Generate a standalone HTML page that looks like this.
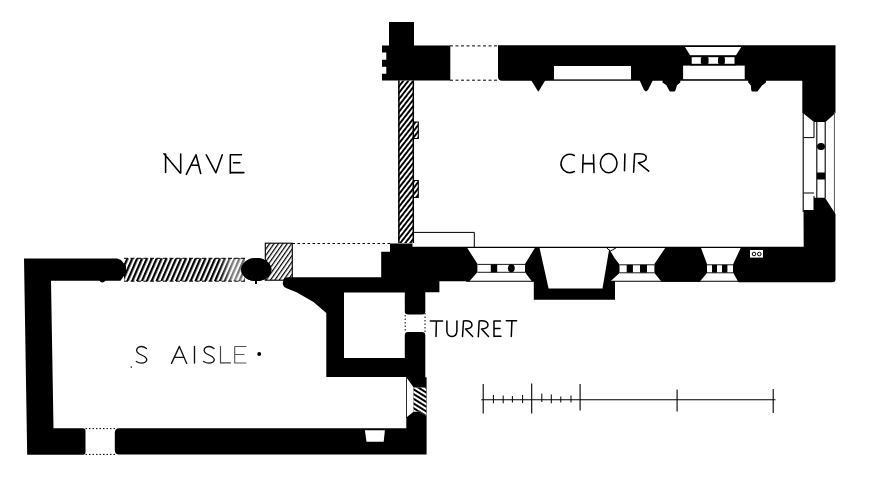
<!DOCTYPE html>
<html>
<head>
<meta charset="utf-8">
<title>Plan</title>
<style>
html,body{margin:0;padding:0;background:#fff;}
body{width:876px;height:478px;overflow:hidden;font-family:"Liberation Sans",sans-serif;}
svg{display:block;}
</style>
</head>
<body>
<svg width="876" height="478" viewBox="0 0 876 478">
<defs>
  <pattern id="hBand" width="4.87" height="10" patternUnits="userSpaceOnUse" patternTransform="skewX(-23.5)">
    <rect x="0" y="0" width="2.45" height="10" fill="#000"/>
  </pattern>
  <pattern id="hWall" width="3.9" height="10" patternUnits="userSpaceOnUse" patternTransform="rotate(38)">
    <rect x="0" y="0" width="1.95" height="10" fill="#000"/>
  </pattern>
  <pattern id="hSq" width="3.6" height="10" patternUnits="userSpaceOnUse" patternTransform="rotate(35)">
    <rect x="0" y="0" width="1.2" height="10" fill="#000"/>
  </pattern>
  <pattern id="hSm" width="4" height="10" patternUnits="userSpaceOnUse" patternTransform="rotate(-58)">
    <rect x="0" y="0" width="2" height="10" fill="#000"/>
  </pattern>
</defs>
<rect x="0" y="0" width="876" height="478" fill="#fff"/>

<!-- ============ CHOIR: north wall ============ -->
<g id="choirN" fill="#000">
  <path d="M389,22 H414 V45.5 H450.3 V80.6 H382 V73.8 H386.3 V66.8 H382 V59.7 H386.3 V52.6 H382 V45.5 H389 Z"/>
  <path d="M498,45.3 H835.5 V113 L825.5,122 H814 L802.3,112.6 V80.7 H502 Q498,80.7 498,76.5 Z"/>
  <!-- pendants -->
  <path d="M531,80 H545.5 L538.3,91.8 Z"/>
  <path d="M639.5,80 H653 L648,90 L646,91.5 L644,90 Z"/>
  <path d="M662.5,80 H680.3 V82.6 L677,85.3 L675.4,90.5 L674.5,91.5 H670 L669.2,90.5 L666.4,85.3 L662.5,82.6 Z"/>
  <path d="M748.2,80 H766 V82.6 L762,85.6 L758.2,90.5 L757.5,91.5 H752 L751.3,90.5 L750.8,85.3 L748.2,82.6 Z"/>
</g>
<g id="choirNwhite" fill="#fff">
  <rect x="554" y="66" width="77" height="13.4"/>
  <path d="M684.9,46.9 H741.3 L735.8,55.5 H690.3 Z"/>
  <rect x="691.7" y="57.2" width="9.2" height="6.8"/>
  <rect x="708.4" y="57.2" width="9.6" height="6.8"/>
  <rect x="724.9" y="57.2" width="9.6" height="6.8"/>
  <rect x="683.1" y="65.6" width="61.6" height="13.6"/>
  <rect x="700.9" y="57.2" width="7.5" height="6.8"/>
  <rect x="718" y="57.2" width="6.9" height="6.8"/>
</g>
<g fill="#000"><rect x="700.9" y="56.5" width="7.5" height="8" rx="2.2"/><rect x="718" y="56.5" width="6.9" height="8" rx="2.2"/><rect x="690" y="55.4" width="46" height="1.3"/><rect x="690" y="63.8" width="46" height="1.6"/></g>
<!-- north doorway dotted -->
<g stroke="#000" stroke-width="1" fill="none">
  <line x1="450" y1="45.9" x2="498" y2="45.9" stroke-dasharray="3 2.5"/>
  <line x1="450" y1="80.2" x2="498" y2="80.2" stroke-dasharray="3 2.5"/>
</g>

<!-- ============ CHOIR: west hatched wall ============ -->
<g id="choirW">
  <rect x="398.2" y="80.6" width="15.7" height="162.4" fill="url(#hWall)"/>
  <line x1="398.9" y1="80.6" x2="398.9" y2="243" stroke="#000" stroke-width="1.5"/>
  <line x1="413.3" y1="80.6" x2="413.3" y2="243" stroke="#000" stroke-width="1.5"/>
  <path d="M414,122 H418.3 V138.5 H414" fill="url(#hWall)" stroke="#000" stroke-width="1.1"/>
  <path d="M414,180.5 H418.3 V197.5 H414" fill="url(#hWall)" stroke="#000" stroke-width="1.1"/>
</g>

<!-- ============ CHOIR: east window ============ -->
<g id="choirE" stroke="#000" fill="none">
  <line x1="803.2" y1="112" x2="803.2" y2="212" stroke-width="1.1"/>
  <line x1="834.4" y1="112" x2="834.4" y2="215" stroke-width="1" stroke="#555"/>
  <line x1="816.8" y1="122" x2="816.8" y2="198" stroke-width="1.1"/>
  <line x1="825.2" y1="122" x2="825.2" y2="198" stroke-width="1.1"/>
  <path d="M814,122 V137.6 H803.5" stroke-width="1"/>
  <path d="M803.5,193 H814 M814,196 V210" stroke-width="1"/>
  <ellipse cx="821" cy="146.5" rx="4" ry="3.6" fill="#000" stroke="none"/>
  <rect x="817" y="172.5" width="8" height="7" fill="#000" stroke="none"/>
</g>

<!-- ============ CHOIR: south wall ============ -->
<g id="choirS" fill="#000">
  <!-- east + SE corner -->
  <path d="M803.5,210 H814 V197.7 H825 L835.5,214 V279 Q835.5,282.3 832.5,282.3 H738.5 L733,272.5 V264.5 L741,247.3 H803.7 Z"/>
  <!-- block between win2 and win3 -->
  <path d="M665.7,247.3 H700.7 L707,264 V273 L699.6,281.8 H661.6 L654.4,273 V264 Z"/>
  <!-- bay -->
  <path d="M535.3,247.3 H539.4 L548.6,288.4 H602.5 L609.2,249 L614.5,258 L619.5,264.5 V273 L610.5,281.3 H615 V299.7 H533.8 V281.5 L532,281.5 L525,272.3 V264 Z"/>
  <!-- west pier / SW corner of choir -->
  <path d="M390,243.5 H412.5 V247.3 H466.8 L477.4,263.8 V272.3 L469.4,281.3 H439.4 V292.3 H425.3 V311.5 Q425.3,314.5 422.3,314.5 H408 Q404.8,314.5 404.8,311.5 V292.5 H344 V357.9 H404.8 V335 Q404.8,332 408,332 H422 Q425.3,332 425.3,335 V377.3 H426.6 V454.6 H119 Q114.8,454.6 114.8,450 V433 Q114.8,428.3 119,428.3 H406.3 V377 H326.3 V313 L313.5,302 L297,292.6 L286,288 Q282,286 283,281.5 Q284.5,277.2 288,277.2 H381.2 V251.8 H390 Z"/>
</g>
<g id="choirSlines" stroke="#000" stroke-width="1.1" fill="none">
  <line x1="412" y1="247.4" x2="804" y2="247.4"/>
  <line x1="466" y1="281.3" x2="534" y2="281.3"/>
  <line x1="610" y1="281.3" x2="740" y2="281.3"/>
  <path d="M606.5,247.6 L610.2,251.2 L616.5,247.6" stroke-width="1"/>
  <!-- mullion rows -->
  <path d="M477.5,264.4 H525 M477.5,272.3 H525" stroke-width="0.9"/>
  <path d="M619.5,264.8 H654.4 M619.5,272.8 H654.4" stroke-width="0.9"/>
  <path d="M707,264.8 H733 M707,272.8 H733" stroke-width="0.9"/>
</g>
<g fill="#000">
  <rect x="490.8" y="264.4" width="6.4" height="7.8"/>
  <ellipse cx="511.3" cy="268.2" rx="3.4" ry="4"/>
  <rect x="626.7" y="264.8" width="6.2" height="7.8"/>
  <rect x="640" y="264.8" width="7" height="7.8"/>
  <rect x="712" y="264.8" width="5" height="7.8"/>
  <rect x="722" y="264.8" width="5.4" height="7.8"/>
</g>
<!-- small rect at SW of choir -->
<path d="M412.5,232.4 H474.3 V247" fill="none" stroke="#000" stroke-width="1"/>
<!-- piscina -->
<rect x="750" y="250" width="13" height="7.6" fill="#fff"/>
<g fill="none" stroke="#000" stroke-width="1">
  <circle cx="754" cy="254" r="1.8"/><circle cx="759.3" cy="254" r="1.8"/>
</g>

<!-- ============ turret doorway dotted ============ -->
<g stroke="#000" stroke-width="1" stroke-dasharray="1.5 2">
  <line x1="405.2" y1="315" x2="405.2" y2="332"/>
  <line x1="425" y1="313" x2="425" y2="334"/>
</g>

<!-- ============ S AISLE ============ -->
<g id="aisle" fill="#000">
  <path d="M24,258.5 H117 L121,260 L126,266 V273 L120.5,280.8 H51 L53.5,428.2 H83 Q85.5,428.2 85.5,431 V452 Q85.5,454.8 83,454.8 H27.2 Z"/>
  <ellipse cx="256.2" cy="269.6" rx="15.2" ry="11.5"/>
  <rect x="255" y="280" width="2" height="4"/>
  <path d="M99,280 Q102,285 106,280 Z"/>
</g>
<!-- hatched band -->
<rect x="124" y="258.3" width="121" height="22.8" fill="url(#hBand)"/>
<g stroke="#000" stroke-width="1" fill="none" stroke-dasharray="4 2.5">
  <line x1="124" y1="258.3" x2="245" y2="258.3"/>
  <line x1="124" y1="281.2" x2="245" y2="281.2"/>
</g>
<linearGradient id="fade" x1="0" x2="1" y1="0" y2="0"><stop offset="0" stop-color="#fff" stop-opacity="0"/><stop offset="0.6" stop-color="#fff" stop-opacity="0.55"/><stop offset="1" stop-color="#fff" stop-opacity="0.35"/></linearGradient>
<rect x="218" y="259" width="27" height="21.6" fill="url(#fade)"/>
<!-- hatched square -->
<rect x="265.3" y="243.2" width="27" height="37" fill="url(#hSq)" stroke="#000" stroke-width="1.1"/>
<ellipse cx="256.2" cy="269.6" rx="15.2" ry="11.5" fill="#000"/>
<!-- dotted from square -->
<g stroke="#000" stroke-width="1" fill="none" stroke-dasharray="2.5 2.5">
  <line x1="292.5" y1="243.5" x2="390" y2="243.5"/>
</g>
<!-- aisle south doorway dotted -->
<g stroke="#000" stroke-width="1" fill="none" stroke-dasharray="1.5 2">
  <line x1="85.5" y1="428.6" x2="115" y2="428.6"/>
  <line x1="85.5" y1="454.4" x2="115" y2="454.4"/>
</g>
<!-- aisle east window -->
<path d="M406.3,377.3 L413.6,387.6 V411.8 L406.3,417.5 Z" fill="#fff"/>
<path d="M413.6,387.6 H426.3 V416 L420,411.8 H413.6 Z" fill="#fff"/>
<path d="M413.6,387.6 H426.3 V416 L420,411.8 H413.6 Z" fill="url(#hSm)"/>
<line x1="406.5" y1="377" x2="406.5" y2="418" stroke="#000" stroke-width="0.8"/>
<!-- aisle south niche -->
<path d="M364.9,430.2 H384.9 L383.7,441.7 H366.5 Z" fill="#fff"/>

<!-- ============ labels (hand lettering) ============ -->
<g id="labels" fill="none" stroke="#000" stroke-width="1.55" stroke-linecap="round" stroke-linejoin="round">
  <!-- NAVE -->
  <path d="M165.6,172.4 V154 M164,153.7 L180.2,173 M180.7,154 V173"/>
  <path d="M186.3,174.4 L196,154.8 L200.7,173.5 M190.8,165.2 H198.3"/>
  <path d="M206.3,154.8 L215.9,172.8 L222.3,154.8"/>
  <path d="M230.3,154.8 V173.2 M230.3,154.8 H241.5 M233.5,162.8 H239.9 M230.3,172.6 H243.9"/>
  <!-- CHOIR -->
  <path d="M574.4,155.5 Q567,152 562.5,158.5 Q559,165 563.5,170 Q568,174.500 574.4,171.5"/>
  <path d="M583.2,154.8 L582.6,172.4 M593.5,154.8 L594,172.4 M583.2,163.6 H593.5"/>
  <ellipse cx="608.7" cy="163.2" rx="8.3" ry="9.6"/>
  <path d="M624.9,154 L624.5,170.8"/>
  <path d="M634.6,154 L633.6,172.2 M634.6,154 Q646,152.500 646.3,157.500 Q646.300,162 638.5,162.800 L648.7,171.200"/>
  <!-- TURRET -->
  <g stroke-width="1.5">
  <path d="M430.3,321 H442.6 M436.4,321 L436,336.500"/>
  <path d="M446.9,321 V331.500 Q447.500,336.500 452,336.500 Q456.500,336.500 456.9,331 V321"/>
  <path d="M463.5,321 L462.500,336.500 M463.5,321 Q472,320 472,325 Q472,328.500 465.500,329 L472.7,336.500"/>
  <path d="M479.2,321 L478.3,336.800 M479.2,321 Q488,320 488,325 Q488,328.500 481.500,329 L488.5,336.500"/>
  <path d="M494,321 V336.500 M494,321 H500.500 M495,328.500 H500 M494,336.300 H501"/>
  <path d="M506.3,320.800 H516.6 M511.9,321 L511.300,336.500"/>
  </g>
  <!-- S AISLE -->
  <g stroke-width="1.35" stroke="#111">
  <path d="M146.5,348.500 Q142,345 138,347.500 Q135,350.500 138.500,353.500 L144.500,356.500 Q148.500,359.500 145.500,362 Q141,364.500 136.300,361.500"/>
  <path d="M171.5,363.4 L179.4,346.4 L186.7,363.4 M175,357.4 H184"/>
  <path d="M194.5,346.500 V363"/>
  <path d="M214,348.500 Q209.500,345 205.500,347.500 Q202.500,350.500 206,353.500 L212,356.500 Q216,359.500 213,362 Q208.500,364.500 203.500,361.500"/>
  <path d="M220.5,346.500 V362.9 H230.5" stroke="#444" stroke-width="1.15"/>
  <path d="M234.7,346.500 V363 M234.700,346.500 H246 M234.700,354.500 H244 M234.700,363 H246" stroke="#555" stroke-width="1.1"/>
  </g>
  <circle cx="259.2" cy="354.1" r="2" fill="#000" stroke="none"/>
  <circle cx="131.3" cy="367" r="0.8" fill="#000" stroke="none"/>
</g>

<!-- ============ scale bar ============ -->
<g id="scale" stroke="#000" stroke-width="1.1" fill="none">
  <line x1="481.3" y1="399.7" x2="775.5" y2="399.7"/>
  <path d="M483.2,384 V413.4 M531.7,383.6 V413.4 M580.1,384 V410.500"/>
  <path d="M677.1,389.6 V411.5 M773.2,389 V413"/>
  <path d="M493.4,395 V403.300 M503.2,395.500 V403.300 M512.4,396 V402.500 M522.6,395 V403 M541.8,393.500 V402 M551.3,394.500 V403.300 M560.8,396.500 V402.500 M571,395.500 V402.500" stroke-width="1"/>
</g>
</svg>
</body>
</html>
